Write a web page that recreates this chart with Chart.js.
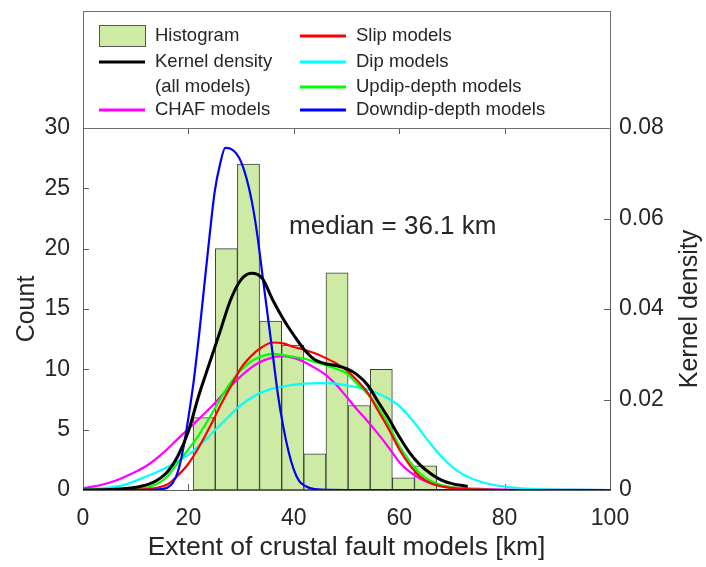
<!DOCTYPE html>
<html>
<head>
<meta charset="utf-8">
<script src="https://cdn.jsdelivr.net/npm/chart.js@4.4.0/dist/chart.umd.min.js"></script>
<style>
  html, body { margin: 0; padding: 0; background: #fff; }
</style>
</head>
<body>
<canvas id="extentChart" width="706" height="567"></canvas>
<script>
// histogram of model extents (left axis, counts)
const binCenters = [23.0, 27.2, 31.4, 35.6, 39.8, 44.0, 48.2, 52.4, 56.6, 60.8, 65.0];
const binCounts  = [6, 20, 27, 14, 12, 3, 18, 7, 10, 1, 2];

// kernel densities (right axis)
const allX = [0, 5, 10, 13, 16, 18, 20, 22, 24, 26, 28, 30, 32, 34, 36, 38, 40, 42, 44, 46, 48, 50, 52, 54, 56, 58, 60, 62, 64, 66, 68, 70, 73];
const allY = [0, 0.0001, 0.0006, 0.0015, 0.004, 0.0075, 0.013, 0.021, 0.028, 0.035, 0.042, 0.0465, 0.0479, 0.0468, 0.042, 0.0378, 0.0342, 0.031, 0.0288, 0.0279, 0.0275, 0.0268, 0.0255, 0.0232, 0.0195, 0.0158, 0.0118, 0.0082, 0.0055, 0.0036, 0.0022, 0.0014, 0.0008];

const chafX = [0, 3, 6, 9, 12, 15, 18, 21, 24, 27, 30, 33, 36, 38, 40, 42, 44, 46, 48, 50, 52, 54, 56, 58, 60, 62, 64, 66, 68, 72, 80, 100];
const chafY = [0.0004, 0.001, 0.002, 0.0035, 0.0053, 0.008, 0.0113, 0.0146, 0.018, 0.0217, 0.0252, 0.0279, 0.0293, 0.0296, 0.0292, 0.0283, 0.027, 0.0255, 0.0233, 0.0206, 0.0178, 0.0152, 0.0124, 0.0094, 0.0062, 0.004, 0.0025, 0.0015, 0.0009, 0.0004, 0.0001, 0];

const slipX = [0, 10, 14, 16, 18, 20, 22, 24, 26, 28, 30, 32, 34, 36, 38, 40, 42, 44, 46, 48, 50, 52, 54, 56, 58, 60, 62, 64, 66, 68, 70, 75, 80, 100];
const slipY = [0, 0.0001, 0.0005, 0.0012, 0.0032, 0.0058, 0.0095, 0.0138, 0.0185, 0.0228, 0.027, 0.0297, 0.0316, 0.0326, 0.0324, 0.0316, 0.031, 0.0302, 0.0292, 0.028, 0.0265, 0.0242, 0.0215, 0.0175, 0.0135, 0.009, 0.0055, 0.0029, 0.0015, 0.0008, 0.0004, 0.0001, 0, 0];

const dipX = [0, 4, 8, 12, 15, 18, 21, 24, 27, 30, 33, 36, 39, 42, 45, 48, 51, 54, 57, 60, 63, 66, 69, 72, 75, 78, 82, 86, 90, 100];
const dipY = [0.0001, 0.0004, 0.0012, 0.003, 0.0045, 0.0063, 0.0087, 0.012, 0.0155, 0.0188, 0.0211, 0.0224, 0.0231, 0.0235, 0.0236, 0.0235, 0.0229, 0.0222, 0.0208, 0.0186, 0.0147, 0.0101, 0.0062, 0.0035, 0.002, 0.0011, 0.0005, 0.0002, 0.0001, 0];

const updipX = [0, 10, 13, 16, 18, 20, 22, 24, 26, 28, 30, 32, 34, 36, 38, 40, 42, 44, 46, 48, 50, 52, 54, 56, 58, 60, 62, 64, 66, 68, 70, 75, 80, 100];
const updipY = [0, 0.0002, 0.0008, 0.003, 0.006, 0.009, 0.0122, 0.016, 0.02, 0.0237, 0.0265, 0.0285, 0.0296, 0.0301, 0.0298, 0.0294, 0.029, 0.0283, 0.0276, 0.0268, 0.0258, 0.0235, 0.0212, 0.0182, 0.0143, 0.0098, 0.0063, 0.0036, 0.002, 0.0011, 0.0006, 0.0001, 0, 0];

const downdipX = [0, 10, 14, 16, 17, 18, 19, 20, 21, 22, 23, 24, 25, 26, 27, 28, 29, 30, 31, 32, 33, 34, 35, 36, 37, 38, 39, 40, 41, 42, 44, 50, 70, 100];
const downdipY = [0, 0, 0.0001, 0.0005, 0.0015, 0.004, 0.009, 0.016, 0.024, 0.034, 0.045, 0.056, 0.066, 0.072, 0.0756, 0.0754, 0.0745, 0.0725, 0.069, 0.064, 0.057, 0.048, 0.039, 0.03, 0.021, 0.014, 0.0085, 0.0045, 0.002, 0.001, 0.0002, 0, 0, 0];

const xTicks = { min: 0, max: 100, step: 20 };
const countTicks = { min: 0, max: 30, step: 5 };
const densityTicks = { min: 0, max: 0.08, step: 0.02 };
const medianKm = 36.1;

const FONT = "'Liberation Sans', Arial, sans-serif";
const TEXT = '#262626';
const FRAME = '#5e5e5e';

const toPts = (xs, ys) => xs.map((x, i) => ({ x: x, y: ys[i] }));

function curve(label, xs, ys, color, width, order) {
    return {
        type: 'line',
        label: label,
        data: toPts(xs, ys),
        yAxisID: 'y1',
        borderColor: color,
        backgroundColor: color,
        borderWidth: width,
        pointRadius: 0,
        cubicInterpolationMode: 'monotone',
        fill: false,
        order: order
    };
}

const datasets = [
    {
        type: 'bar',
        label: 'Histogram',
        data: toPts(binCenters, binCounts),
        yAxisID: 'y',
        backgroundColor: '#cdeba5',
        borderColor: '#3c3c3c',
        borderWidth: 1,
        borderSkipped: false,
        barPercentage: 1,
        categoryPercentage: 1,
        order: 10
    },
    curve('Kernel density\n(all models)', allX, allY, '#000000', 3, 1),
    curve('CHAF models', chafX, chafY, '#ff00ff', 2.2, 6),
    curve('Slip models', slipX, slipY, '#ff0000', 2.2, 3),
    curve('Dip models', dipX, dipY, '#00ffff', 2.2, 5),
    curve('Updip-depth models', updipX, updipY, '#00ff00', 2.2, 4),
    curve('Downdip-depth models', downdipX, downdipY, '#0000ff', 2.2, 2)
];

// frame + inward tick marks
const frameTicks = {
    id: 'frameTicks',
    beforeDatasetsDraw(chart) {
        const { ctx, chartArea: a, scales } = chart;
        const len = 6;
        ctx.save();
        ctx.strokeStyle = FRAME;
        ctx.lineWidth = 1;
        ctx.beginPath();
        scales.x.ticks.forEach(t => {
            const px = Math.round(scales.x.getPixelForValue(t.value)) + 0.5;
            ctx.moveTo(px, a.bottom); ctx.lineTo(px, a.bottom - len);
            ctx.moveTo(px, a.top); ctx.lineTo(px, a.top + len);
        });
        scales.y.ticks.forEach(t => {
            const py = Math.round(scales.y.getPixelForValue(t.value)) + 0.5;
            ctx.moveTo(a.left, py); ctx.lineTo(a.left + len, py);
        });
        scales.y1.ticks.forEach(t => {
            const py = Math.round(scales.y1.getPixelForValue(t.value)) + 0.5;
            ctx.moveTo(a.right, py); ctx.lineTo(a.right - len, py);
        });
        ctx.stroke();
        ctx.strokeRect(Math.round(a.left) + 0.5, Math.round(a.top) + 0.5, Math.round(a.width), Math.round(a.height));
        ctx.restore();
    }
};

// legend box, right axis title and median note
const extras = {
    id: 'extras',
    afterDraw(chart) {
        const { ctx, chartArea: a, scales } = chart;
        const ds = chart.data.datasets;
        ctx.save();

        // legend box
        ctx.strokeStyle = '#707070';
        ctx.lineWidth = 1;
        ctx.strokeRect(Math.round(a.left) + 0.5, 11.5, Math.round(a.width), Math.round(a.top) - 11);

        const rows = [36, 62, 87, 110];
        const cols = [{ sym: 99, txt: 155 }, { sym: 300, txt: 356 }];
        const items = [
            [0, 0, 0], [1, 0, 1], [2, 0, 3],
            [3, 1, 0], [4, 1, 1], [5, 1, 2], [6, 1, 3]
        ];
        ctx.font = '18.5px ' + FONT;
        ctx.textBaseline = 'middle';
        ctx.textAlign = 'left';
        items.forEach(([di, c, r]) => {
            const d = ds[di];
            const col = cols[c];
            const y = rows[r];
            if (d.type === 'bar') {
                ctx.fillStyle = d.backgroundColor;
                ctx.fillRect(col.sym, y - 11, 46, 21);
                ctx.strokeStyle = '#555';
                ctx.strokeRect(col.sym + 0.5, y - 10.5, 46, 21);
            } else {
                ctx.strokeStyle = d.borderColor;
                ctx.lineWidth = 3;
                ctx.beginPath();
                ctx.moveTo(col.sym, y);
                ctx.lineTo(col.sym + 46, y);
                ctx.stroke();
            }
            ctx.fillStyle = TEXT;
            d.label.split('\n').forEach((line, k) => {
                ctx.fillText(line, col.txt, rows[r + k]);
            });
        });

        // right axis title, reading bottom to top
        ctx.font = '25px ' + FONT;
        ctx.fillStyle = TEXT;
        ctx.textAlign = 'center';
        ctx.translate(690, (a.top + a.bottom) / 2);
        ctx.rotate(-Math.PI / 2);
        ctx.fillText('Kernel density', 0, 0);
        ctx.setTransform(1, 0, 0, 1, 0, 0);

        // median note
        ctx.textAlign = 'left';
        ctx.font = '26px ' + FONT;
        ctx.fillText('median = ' + medianKm.toFixed(1) + ' km',
            scales.x.getPixelForValue(39.1), scales.y.getPixelForValue(21.8));
        ctx.restore();
    }
};

new Chart(document.getElementById('extentChart'), {
    type: 'bar',
    data: { datasets: datasets },
    options: {
        responsive: false,
        animation: false,
        layout: { padding: { top: 128, left: 0, right: 0, bottom: 0 } },
        plugins: {
            legend: { display: false },
            tooltip: { enabled: false }
        },
        scales: {
            x: {
                type: 'linear',
                min: xTicks.min,
                max: xTicks.max,
                offset: false,
                grid: { display: false, drawTicks: false },
                border: { display: false },
                ticks: { stepSize: xTicks.step, padding: 15, color: TEXT, font: { size: 23, family: FONT } },
                title: { display: true, text: 'Extent of crustal fault models [km]', color: TEXT, font: { size: 26.5, family: FONT }, padding: { top: 0, bottom: 3 } },
                afterFit(s) { s.height = 77; }
            },
            y: {
                position: 'left',
                min: countTicks.min,
                max: countTicks.max,
                grid: { display: false, drawTicks: false },
                border: { display: false },
                ticks: { stepSize: countTicks.step, padding: 13, color: TEXT, font: { size: 23, family: FONT } },
                title: { display: true, text: 'Count', color: TEXT, font: { size: 25, family: FONT }, padding: { top: 12, bottom: 0 } },
                afterFit(s) { s.width = 83; }
            },
            y1: {
                position: 'right',
                min: densityTicks.min,
                max: densityTicks.max,
                grid: { display: false, drawTicks: false },
                border: { display: false },
                ticks: {
                    stepSize: densityTicks.step, padding: 9, color: TEXT, font: { size: 23, family: FONT },
                    callback: v => (v === 0 ? '0' : v.toFixed(2))
                },
                afterFit(s) { s.width = 96; }
            }
        }
    },
    plugins: [frameTicks, extras]
});
</script>
</body>
</html>
